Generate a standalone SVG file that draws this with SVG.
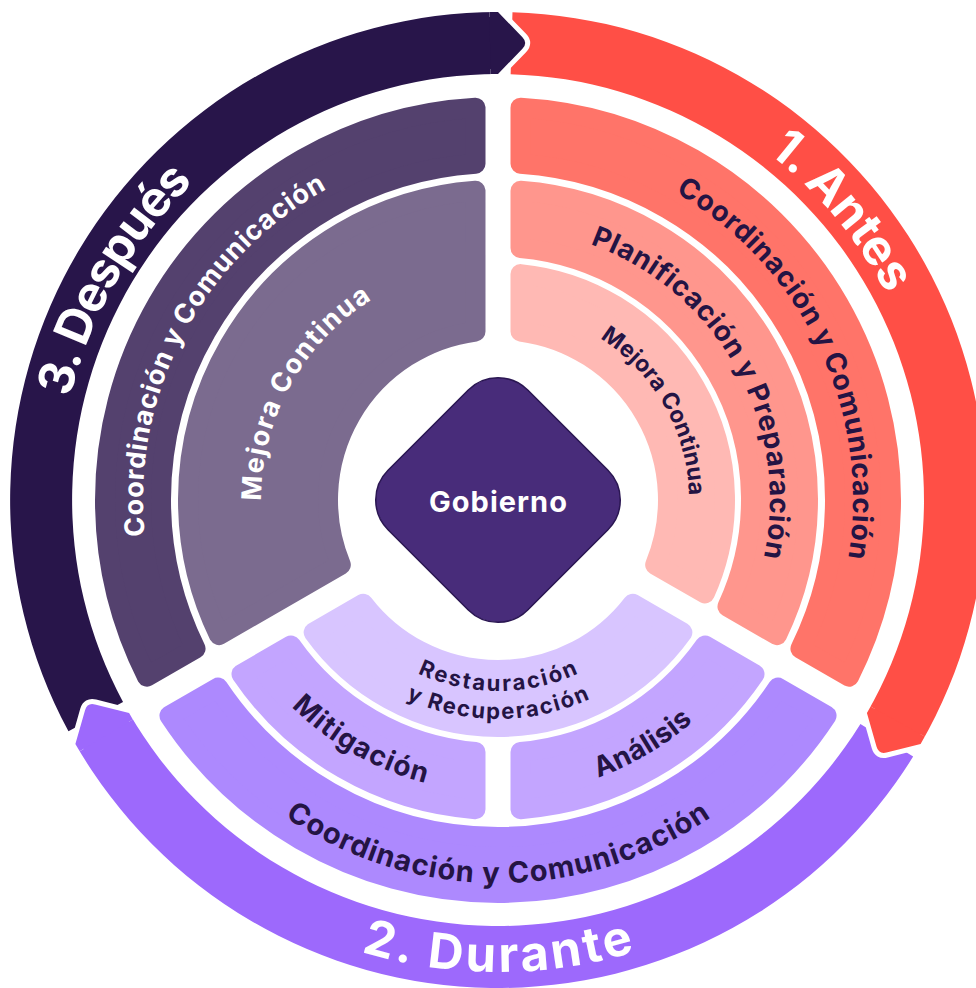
<svg xmlns="http://www.w3.org/2000/svg" width="976" height="988" viewBox="0 0 976 988">
<style>
.lbl{font-family:Inter,"Liberation Sans",sans-serif;font-weight:700;text-anchor:middle}
.ring{font-size:49px;fill:#fff}
.band{font-size:28px}
.dk{fill:#241444}
.wt{fill:#fff}
.bd{stroke-width:20;stroke-linejoin:round}
.tip{stroke:#fff;stroke-width:10;paint-order:stroke;stroke-linejoin:round}
.aA{fill:#ff7469;stroke:#ff7469}.aB{fill:#ff968d;stroke:#ff968d}.aC{fill:#ffb9b4;stroke:#ffb9b4}
.dA{fill:#ad89fe;stroke:#ad89fe}.dB{fill:#c3a5ff;stroke:#c3a5ff}.dC{fill:#d8c5ff;stroke:#d8c5ff}
.pA{fill:#54416e;stroke:#54416e}.pM{fill:#7b6b8f;stroke:#7b6b8f}
</style>
<defs>
<path id="bandA" d="M520.5,107.64 A393,393 0 0 1 849.03,676.69 L800.44,648.64 A337,337 0 0 0 520.5,163.75 Z"/>
<path id="bandB" d="M520.5,190.82 A310,310 0 0 1 777,635.1 L727.48,606.51 A253,253 0 0 0 520.5,248 Z"/>
<path id="bandC" d="M520.5,274.12 A227,227 0 0 1 704.86,593.45 L655.17,564.76 A170,170 0 0 0 520.5,331.5 Z"/>
<path id="bandBC" d="M520.5,190.82 A310,310 0 0 1 777,635.1 L655.17,564.76 A170,170 0 0 0 520.5,331.5 Z"/>
<path id="bandB1" d="M520.5,190.82 A310,310 0 0 1 754.5,325.92 L704.98,354.51 A253,253 0 0 0 520.5,248 Z"/>
<path id="bandB2" d="M777,364.9 A310,310 0 0 1 777,635.1 L727.48,606.51 A253,253 0 0 0 727.48,393.49 Z"/>
<path id="pAntes" d="M278,118.95 A440,440 0 0 1 835.05,782.83"/>
<path id="pDespues" d="M210.1,832.9 A440,440 0 0 1 640,83.7"/>
<path id="pDurante" d="M33.17,581.96 A472,472 0 0 0 962.83,581.96"/>
<path id="pRA" d="M404.32,157.57 A355,355 0 0 1 703.15,789.72"/>
<path id="pRB" d="M409.44,242.82 A272,272 0 0 1 669.17,711.37"/>
<path id="pRC" d="M433.92,320.06 A191,191 0 0 1 619.74,647.17"/>
<path id="pLA" d="M280.92,780.88 A355,355 0 0 1 605.92,161.79"/>
<path id="pLM" d="M349.5,684.69 A237,237 0 0 1 574.39,275.66"/>
<path id="pBA" d="M125.74,565.62 A377,377 0 0 0 870.26,565.62"/>
<path id="pMit" d="M223.08,401.57 A292,292 0 0 0 722.66,686.53"/>
<path id="pAna" d="M274,691.99 A295,295 0 0 0 774.15,396.22"/>
<path id="pRes" d="M309.9,533.17 A191,191 0 0 0 686.1,533.17"/>
<path id="pRec" d="M282.33,538.03 A219,219 0 0 0 713.67,538.03"/>
</defs>

<g id="outer-ring">
<path d="M512.48,12.21 A488,488 0 0 1 920.61,744 L866.92,713 A426,426 0 0 0 510.64,74.19 Z" fill="#ff4f46"/>
<path d="M913.15,756.55 A488,488 0 0 1 75.39,744 L129.08,713 A426,426 0 0 0 860.41,723.96 Z" fill="#9d69fc"/>
<path d="M68.46,731.36 A488,488 0 0 1 498,12 L498,74 A426,426 0 0 0 123.03,701.96 Z" fill="#28154a"/>
<path class="tip" fill="#28154a" d="M490.57,74.06 A426,426 0 0 1 498,74 L522.43,48.75 Q528,43 522.43,37.25 L498,12 A488,488 0 0 0 489.48,12.07"/>
<path class="tip" fill="#ff4f46" d="M870.59,706.53 A426,426 0 0 1 866.92,713 L876.56,746.79 Q878.76,754.48 886.52,752.54 L920.61,744 A488,488 0 0 0 924.81,736.59"/>
<path class="tip" fill="#9d69fc" d="M132.85,719.41 A426,426 0 0 1 129.08,713 L95,704.47 Q87.24,702.52 85.04,710.22 L75.39,744 A488,488 0 0 0 79.7,751.34"/>
<text class="lbl ring"><textPath href="#pAntes" startOffset="50%" textLength="186">1. Antes</textPath></text>
<text class="lbl ring" font-size="52"><textPath href="#pDurante" startOffset="50%" textLength="278">2. Durante</textPath></text>
<text class="lbl ring"><textPath href="#pDespues" startOffset="50%" textLength="252">3. Después</textPath></text>
</g>

<g id="antes">
<use href="#bandA" class="bd aA"/>
<use href="#bandB" class="bd aB"/>
<use href="#bandC" class="bd aC"/>
<text class="lbl band dk"><textPath href="#pRA" startOffset="50%" textLength="430">Coordinación y Comunicación</textPath></text>
<text class="lbl band dk"><textPath href="#pRB" startOffset="50%" textLength="391">Planificación y Preparación</textPath></text>
<text class="lbl dk" font-size="23"><textPath href="#pRC" startOffset="50%" textLength="188">Mejora Continua</textPath></text>
</g>

<g id="durante">
<g transform="rotate(120 498 500)">
<use href="#bandA" class="bd dA"/>
<use href="#bandB1" class="bd dB"/>
<use href="#bandB2" class="bd dB"/>
<use href="#bandC" class="bd dC"/>
</g>
<text class="lbl dk" font-size="29"><textPath href="#pBA" startOffset="50%" textLength="453">Coordinación y Comunicación</textPath></text>
<text class="lbl band dk"><textPath href="#pMit" startOffset="50%" textLength="156">Mitigación</textPath></text>
<text class="lbl band dk"><textPath href="#pAna" startOffset="50%" textLength="111">Análisis</textPath></text>
<text class="lbl dk" font-size="22"><textPath href="#pRes" startOffset="50%" textLength="166">Restauración</textPath></text>
<text class="lbl dk" font-size="22"><textPath href="#pRec" startOffset="50%" textLength="190">y Recuperación</textPath></text>
</g>

<g id="despues">
<g transform="rotate(240 498 500)">
<use href="#bandA" class="bd pA"/>
<use href="#bandBC" class="bd pM"/>
</g>
<text class="lbl wt" font-size="27"><textPath href="#pLA" startOffset="50%" textLength="415">Coordinación y Comunicación</textPath></text>
<text class="lbl wt" font-size="27"><textPath href="#pLM" startOffset="50%" textLength="240">Mejora Continua</textPath></text>
</g>

<g id="gobierno">
<rect x="-98.75" y="-98.75" width="197.5" height="197.5" rx="42" transform="translate(498 500) rotate(45)" fill="#482c7a" stroke="#2a1652" stroke-width="1.5"/>
<text class="lbl wt" x="498" y="512" font-size="29" textLength="138">Gobierno</text>
</g>
</svg>
